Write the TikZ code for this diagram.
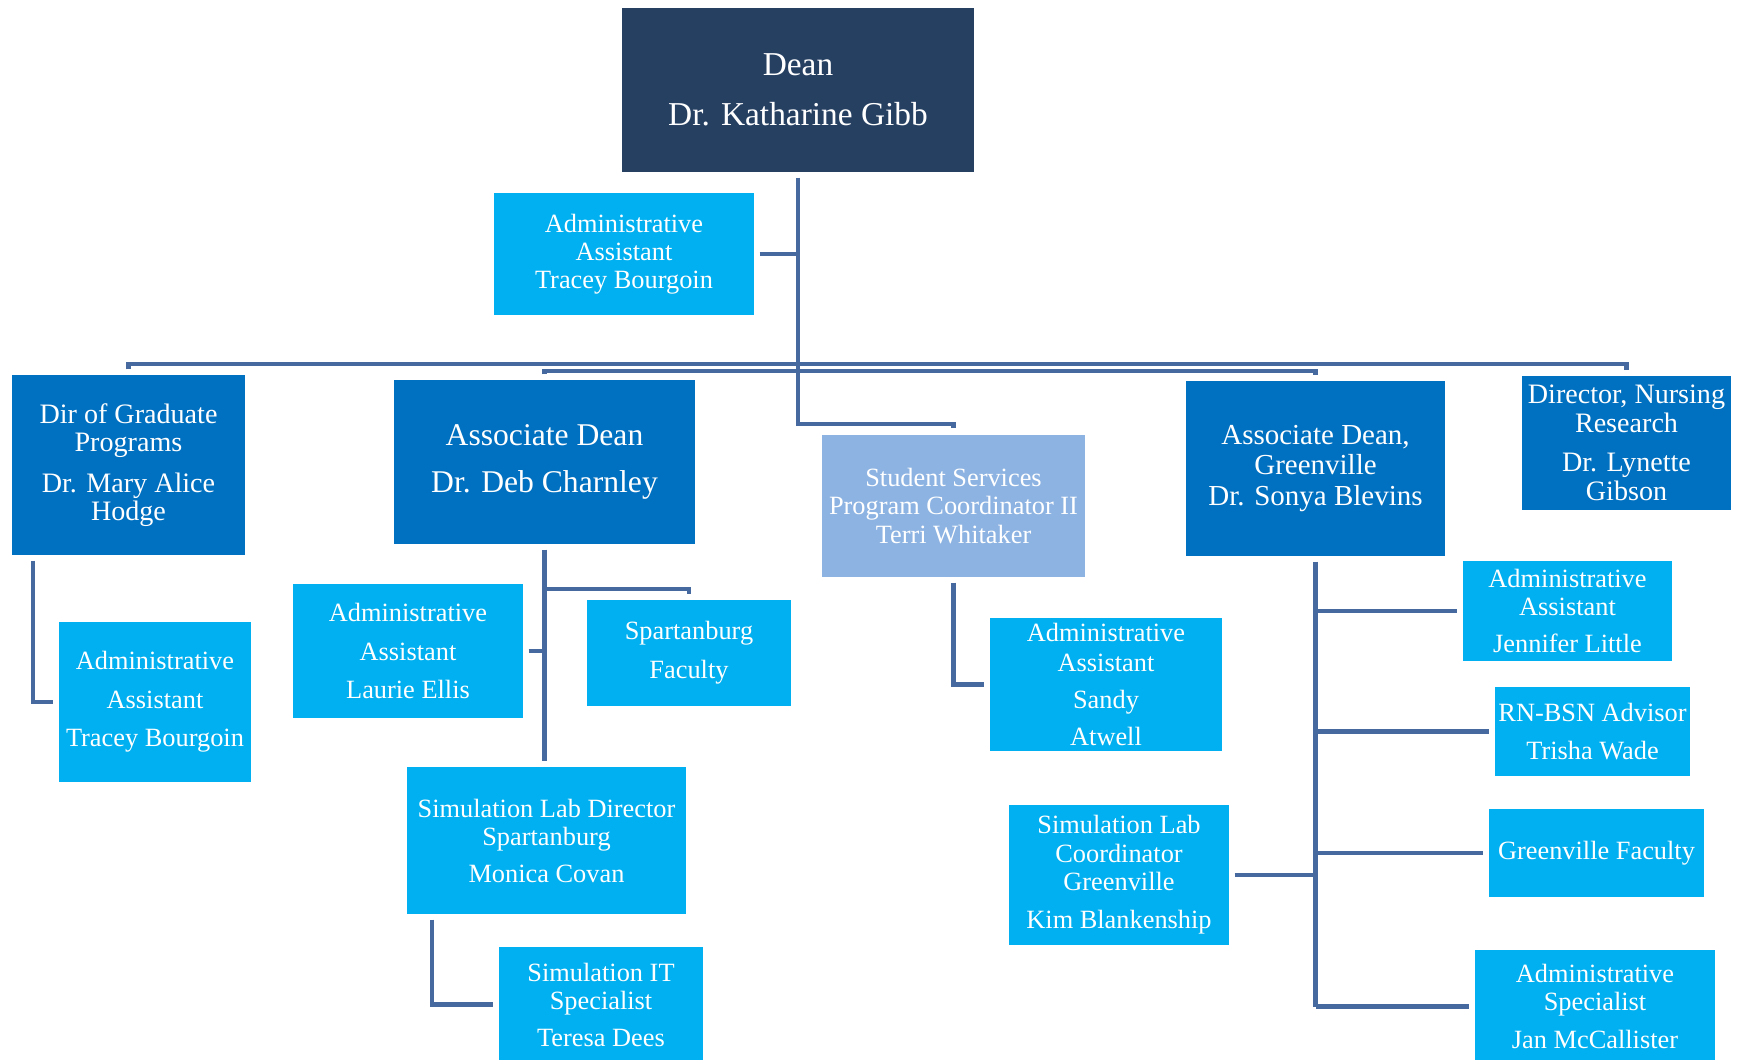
\documentclass[tikz,border=0pt]{standalone}
\usepackage{fontspec}
\setmainfont{Liberation Serif}
\usepackage{xcolor}
\usetikzlibrary{positioning,calc}
\definecolor{deannavy}{RGB}{38,64,98}
\definecolor{headblue}{RGB}{0,112,192}
\definecolor{staffcyan}{RGB}{0,176,240}
\definecolor{studentblue}{RGB}{141,179,226}
\definecolor{linkblue}{RGB}{70,106,160}

\tikzset{
  unitbox/.style={fill=staffcyan, text=white, align=center, inner sep=0pt, font=\fontsize{15}{16}\selectfont},
  headbox/.style={unitbox, fill=headblue},
  link/.style={draw=linkblue, line width=2.4pt},
}

\begin{document}
\begin{tikzpicture}
    \useasboundingbox (0,0) rectangle (34.84,21.18);

    % top level
    \node[unitbox, fill=deannavy, minimum width=7.04cm, minimum height=3.28cm, font=\fontsize{19}{20}\selectfont] (dean) at (15.96,19.38) {Dean\\[8.5pt]Dr. Katharine Gibb};
    \node[unitbox, minimum width=5.2cm, minimum height=2.44cm] (adminDean) at (12.48,16.10) {Administrative\\Assistant\\Tracey Bourgoin};

    % second level
    \node[headbox, minimum width=4.66cm, minimum height=3.6cm, font=\fontsize{16}{16.2}\selectfont] (gradDir) at (2.57,11.88) {Dir of Graduate\\Programs\\[7pt]Dr. Mary Alice\\Hodge};
    \node[headbox, minimum width=6.02cm, minimum height=3.28cm, font=\fontsize{18}{19}\selectfont] (assocDean) at (10.89,11.94) {Associate Dean\\[7.5pt]Dr. Deb Charnley};
    \node[unitbox, fill=studentblue, minimum width=5.26cm, minimum height=2.84cm] (student) at (19.07,11.06) {Student Services\\Program Coordinator II\\Terri Whitaker};
    \node[headbox, minimum width=5.18cm, minimum height=3.5cm, font=\fontsize{16.5}{17.6}\selectfont] (assocGreen) at (26.31,11.81) {Associate Dean,\\Greenville\\Dr. Sonya Blevins};
    \node[headbox, minimum width=4.18cm, minimum height=2.68cm, font=\fontsize{16}{16.5}\selectfont] (nursing) at (32.53,12.32) {Director, Nursing\\Research\\[6pt]Dr. Lynette\\Gibson};

    % staff
    \node[unitbox, minimum width=3.84cm, minimum height=3.2cm] (adminGrad) at (3.10,7.14) {Administrative\\[6pt]Assistant\\[6pt]Tracey Bourgoin};
    \node[unitbox, minimum width=4.6cm, minimum height=2.68cm] (adminAssoc) at (8.16,8.16) {Administrative\\[6pt]Assistant\\[6pt]Laurie Ellis};
    \node[unitbox, minimum width=4.08cm, minimum height=2.12cm] (spFaculty) at (13.78,8.12) {Spartanburg\\[6pt]Faculty};
    \node[unitbox, minimum width=5.58cm, minimum height=2.94cm] (simDir) at (10.93,4.37) {Simulation Lab Director\\Spartanburg\\[5pt]Monica Covan};
    \node[unitbox, minimum width=4.08cm, minimum height=2.3cm] (simIT) at (12.02,1.09) {Simulation IT\\Specialist\\[5pt]Teresa Dees};
    \node[unitbox, minimum width=4.64cm, minimum height=2.66cm] (adminStudent) at (22.12,7.49) {Administrative\\[1.5pt]Assistant\\[5pt]Sandy\\[5pt]Atwell};
    \node[unitbox, minimum width=4.4cm, minimum height=2.8cm] (simCoord) at (22.38,3.68) {Simulation Lab\\Coordinator\\Greenville\\[6pt]Kim Blankenship};
    \node[unitbox, minimum width=4.18cm, minimum height=2.0cm] (adminGreen) at (31.35,8.96) {Administrative\\Assistant\\[5pt]Jennifer Little};
    \node[unitbox, minimum width=3.9cm, minimum height=1.78cm] (rnbsn) at (31.85,6.55) {RN-BSN Advisor\\[6pt]Trisha Wade};
    \node[unitbox, minimum width=4.3cm, minimum height=1.76cm] (greenFaculty) at (31.93,4.12) {Greenville Faculty};
    \node[unitbox, minimum width=4.8cm, minimum height=2.26cm] (adminSpec) at (31.90,1.05) {Administrative\\Specialist\\[6pt]Jan McCallister};

    % connectors from the dean
    \coordinate (bus1) at (15.96,13.90);
    \coordinate (bus2) at (15.96,13.76);
    \coordinate (stuTurn) at (15.96,12.70);
    \draw[link, shorten <=3pt, shorten >=4pt] (dean.south) -- (stuTurn) -| (student.north);
    \draw[link, shorten <=3pt] (adminDean.east) -- (adminDean.east -| dean.south);
    \draw[link, shorten <=3pt, shorten >=3pt] (gradDir.north) |- (bus1) -| (nursing.north);
    \draw[link, shorten <=3pt, shorten >=3pt] (assocDean.north) |- (bus2) -| (assocGreen.north);

    % under the directors
    \draw[link, shorten <=3pt, shorten >=3pt] ([xshift=0.42cm]gradDir.south west) |- (adminGrad.west);
    \coordinate (spTurn) at (10.89,9.40);
    \draw[link, shorten <=3pt, shorten >=3pt] (assocDean.south) -- (assocDean.south |- simDir.north);
    \draw[link, shorten <=3pt] (adminAssoc.east) -- (adminAssoc.east -| assocDean.south);
    \draw[link, shorten >=3pt] (spTurn) -| (spFaculty.north);
    \draw[link, shorten <=3pt, shorten >=3pt] ([xshift=0.5cm]simDir.south west) |- (simIT.west);
    \draw[link, shorten <=3pt, shorten >=3pt] (student.south) |- (adminStudent.west);

    % Greenville
    \draw[link, shorten <=3pt] (assocGreen.south) -- (assocGreen.south |- adminSpec.west);
    \draw[link, shorten >=3pt] (assocGreen.south |- adminGreen.west) -- (adminGreen.west);
    \draw[link, shorten >=3pt] (assocGreen.south |- rnbsn.west) -- (rnbsn.west);
    \draw[link, shorten >=3pt] (assocGreen.south |- greenFaculty.west) -- (greenFaculty.west);
    \draw[link, shorten >=3pt] (assocGreen.south |- adminSpec.west) -- (adminSpec.west);
    \draw[link, shorten <=3pt] (simCoord.east) -- (simCoord.east -| assocGreen.south);
\end{tikzpicture}
\end{document}
